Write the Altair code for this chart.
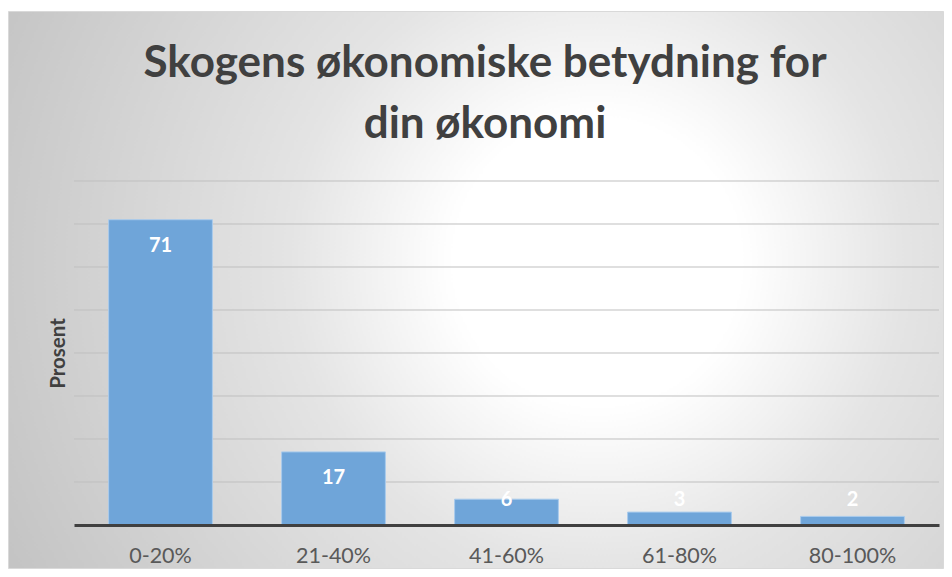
import altair as alt
import pandas as pd

categories = ["0-20%", "21-40%", "41-60%", "61-80%", "80-100%"]
values = [71, 17, 6, 3, 2]
grid_values = [10, 20, 30, 40, 50, 60, 70, 80]
title_line1 = "Skogens økonomiske betydning for"
title_line2 = "din økonomi"
y_title = "Prosent"

df = pd.DataFrame({"kategori": categories, "prosent": values})
grid_df = pd.DataFrame({"prosent": grid_values})
one_df = pd.DataFrame({"k": [0]})

W, H = 865, 344
PAD_L, PAD_T, PAD_R, PAD_B = 66, 173, 5, 44

gradient = {
    "gradient": "radial",
    "x1": 0.63, "y1": 0.47, "r1": 0,
    "x2": 0.63, "y2": 0.47, "r2": 0.7,
    "stops": [
        {"offset": 0, "color": "#ffffff"},
        {"offset": 0.22, "color": "#ffffff"},
        {"offset": 0.47, "color": "#e4e4e4"},
        {"offset": 1, "color": "#c4c4c4"},
    ],
}

bg = alt.Chart(one_df).mark_rect(fill=gradient, stroke="#d9d9d9", strokeWidth=1).encode(
    x=alt.value(-PAD_L + 0.5),
    x2=alt.value(W + PAD_R - 0.5),
    y=alt.value(-PAD_T + 3.5),
    y2=alt.value(H + PAD_B - 0.5),
)

y_scale = alt.Scale(domain=[0, 80], nice=False)

grid = alt.Chart(grid_df).mark_rule(color="#bfbfbf", strokeWidth=1).encode(
    y=alt.Y("prosent:Q", scale=y_scale),
)

x_enc = alt.X(
    "kategori:N",
    sort=categories,
    title=None,
    scale=alt.Scale(paddingInner=0.4, paddingOuter=0.2),
    axis=alt.Axis(
        labelAngle=0,
        labelFont="Lato",
        labelFontSize=21.5,
        labelColor="#595959",
        labelPadding=20,
        ticks=False,
        domainColor="#404040",
        domainWidth=3,
        grid=False,
        zindex=1,
    ),
)
y_enc = alt.Y(
    "prosent:Q",
    scale=y_scale,
    title=y_title,
    axis=alt.Axis(
        labels=False,
        ticks=False,
        domain=False,
        grid=False,
        zindex=1,
        titleFont="Lato",
        titleFontSize=20.5,
        titleFontWeight="bold",
        titleColor="#404040",
        titleX=-16,
        titleY=H / 2,
        titleAngle=-90,
        titleBaseline="middle",
        titleAlign="center",
    ),
)

bars = alt.Chart(df).mark_bar(color="#6fa5d9", stroke="#a9cbec", strokeWidth=1).encode(
    x=x_enc, y=y_enc
)

labels = (
    alt.Chart(df)
    .transform_calculate(lab_y="max(datum.prosent - 6.1, 5.8)")
    .mark_text(font="Lato", fontSize=20, fontWeight="bold", color="white", baseline="middle")
    .encode(
        x=alt.X("kategori:N", sort=categories),
        y=alt.Y("lab_y:Q"),
        text=alt.Text("prosent:Q"),
    )
)

title_style = dict(font="Lato", fontSize=44, fontWeight="bold", color="#404040",
                   align="center", baseline="alphabetic")
t1 = alt.Chart(one_df).mark_text(text=title_line1, **title_style).encode(
    x=alt.value(411), y=alt.value(-104)
)
t2 = alt.Chart(one_df).mark_text(text=title_line2, **title_style).encode(
    x=alt.value(411), y=alt.value(-43)
)

chart = (
    alt.layer(bg, grid, bars, labels, t1, t2)
    .properties(
        width=W,
        height=H,
        autosize=alt.AutoSizeParams(type="none"),
        padding={"left": PAD_L, "top": PAD_T, "right": PAD_R, "bottom": PAD_B},
    )
    .configure_view(stroke=None)
    .configure(background="white")
)

chart.save("out.html", embed_options={"renderer": "svg", "actions": False})
